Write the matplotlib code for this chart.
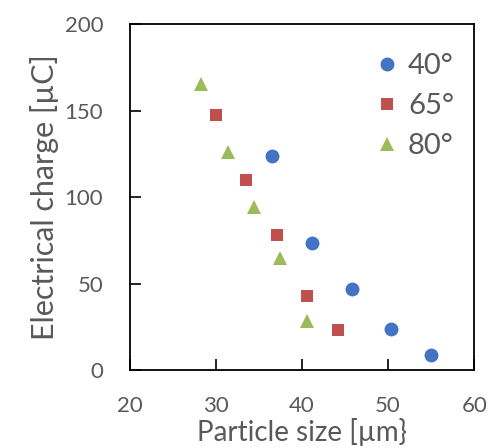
import matplotlib
matplotlib.use("Agg")
import matplotlib.pyplot as plt

plt.rcParams['font.family'] = ['Lato', 'DejaVu Sans']

x40 = [36.55, 41.16, 45.77, 50.37, 54.97]
y40 = [123.9, 73.2, 46.6, 23.7, 8.5]
x65 = [29.98, 33.5, 37.06, 40.6, 44.14]
y65 = [147.2, 110.0, 78.0, 42.8, 23.2]
x80 = [28.3, 31.37, 34.43, 37.48, 40.54]
y80 = [165.5, 126.2, 94.0, 64.9, 28.5]
labels = ['40°', '65°', '80°']
xticks = [20, 30, 40, 50, 60]
yticks = [0, 50, 100, 150, 200]

gray = '#595959'
fig = plt.figure(figsize=(4.9, 4.48), dpi=100)
ax = fig.add_axes([0.2647, 0.1741, 0.7033, 0.7723])

ax.plot(x40, y40, 'o', color='#4472C4', markersize=10, markeredgewidth=0, label=labels[0])
ax.plot(x65, y65, 's', color='#C0504D', markersize=8.5, markeredgewidth=0, label=labels[1])
ax.plot(x80, y80, '^', color='#9BBB59', markersize=9.5, markeredgewidth=0, label=labels[2])

ax.set_xlim(20, 60)
ax.set_ylim(0, 200)
ax.set_xticks(xticks)
ax.set_yticks(yticks)
ax.tick_params(axis='both', direction='in', length=8, width=1.2, colors='black',
               labelcolor=gray, labelsize=16)
ax.tick_params(axis='y', pad=19)
ax.tick_params(axis='x', pad=19)
for s in ax.spines.values():
    s.set_linewidth(1.3)
    s.set_color('black')

ax.set_xlabel('Particle size [µm}', fontsize=20, color=gray, labelpad=1)
ax.set_ylabel('Electrical charge [µC]', fontsize=22, color=gray, labelpad=4)

leg = ax.legend(loc='upper right', frameon=False, fontsize=21, handletextpad=0.1,
                labelspacing=0.48, borderaxespad=0.3, handlelength=1.2,
                bbox_to_anchor=(1.0, 0.975))
for t in leg.get_texts():
    t.set_color(gray)

fig.savefig('out.png', dpi=100)
